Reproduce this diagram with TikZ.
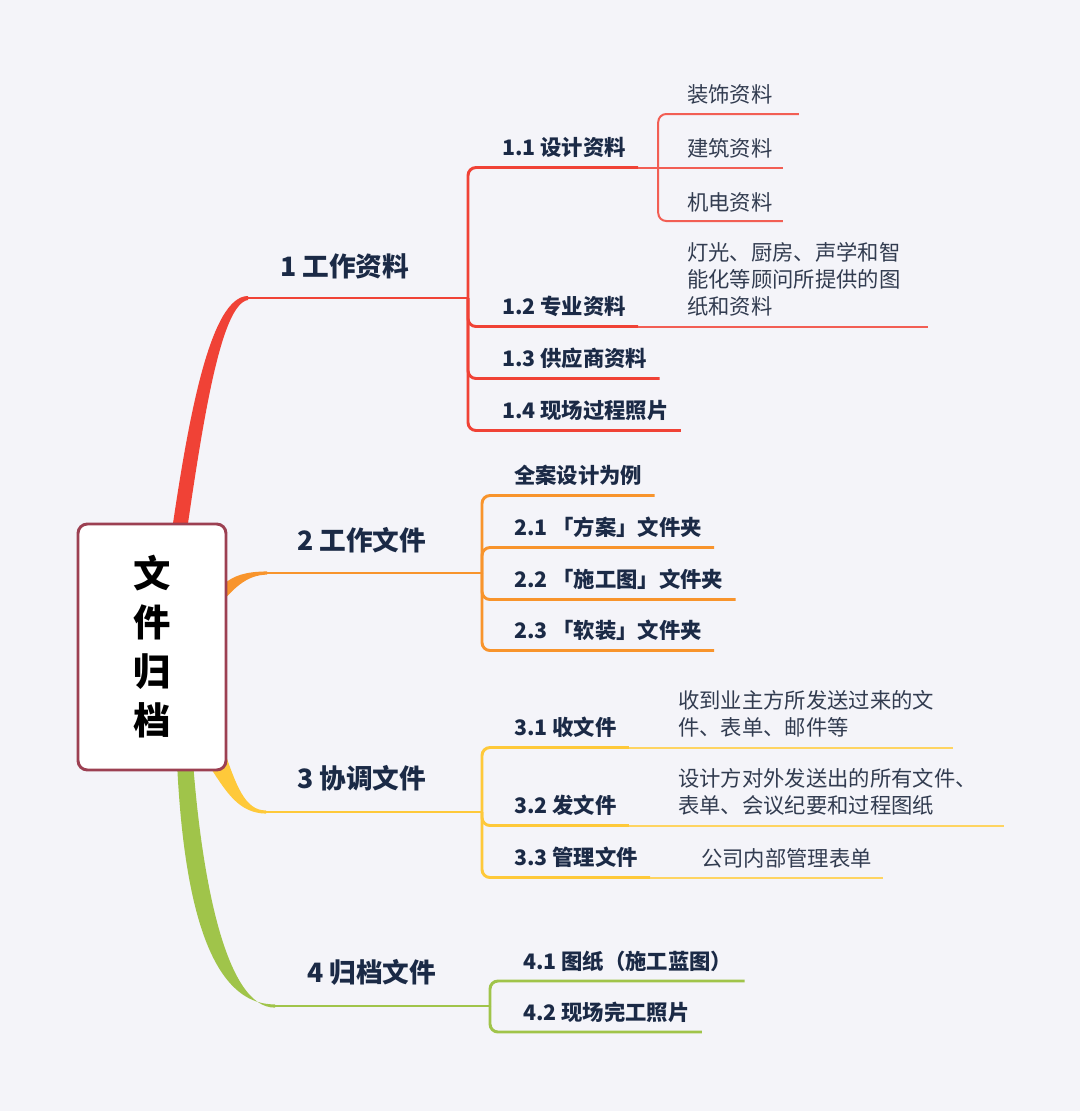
\documentclass[tikz,border=0pt]{standalone}
\usepackage{fontspec}
\setmainfont{Noto Sans CJK SC}
\usepackage{tikz}
\usepackage{xcolor}
\definecolor{pagebg}{RGB}{244,244,249}
\definecolor{rootedge}{RGB}{156,64,82}
\definecolor{inkdark}{RGB}{27,42,70}
\definecolor{inkgrey}{RGB}{50,60,80}
\definecolor{branchred}{RGB}{240,66,54}
\definecolor{branchorange}{RGB}{248,148,44}
\definecolor{branchyellow}{RGB}{254,201,58}
\definecolor{branchgreen}{RGB}{160,196,74}

\begin{document}
\begin{tikzpicture}[x=0.75pt, y=-0.75pt,
    mainlabel/.style={anchor=west, inner sep=0pt, text=inkdark,
      font=\fontsize{20}{24}\selectfont\bfseries},
    sublabel/.style={anchor=west, inner sep=0pt, text=inkdark,
      font=\fontsize{16}{20}\selectfont\bfseries},
    leaflabel/.style={anchor=west, inner sep=0pt, text=inkgrey, align=left,
      font=\fontsize{16}{20.25}\selectfont},
    stem/.style={line width=2.2pt, rounded corners=6pt},
    twig/.style={line width=1.5pt, rounded corners=6pt}]
        % Canvas
        \fill[pagebg] (0,0) rectangle (1080,1111);
        \useasboundingbox (0,0) rectangle (1080,1111);
        \coordinate (rc) at (152,647);
        \coordinate (b1) at (248,298);
        \coordinate (b2) at (267,573);
        \coordinate (b3) at (266,812);
        \coordinate (b4) at (275,1006);

        % Tapered main branches (under the root box)
        \fill[branchred] ([shift={(19,-110)}]rc)
          .. controls (188,420) and (210,296) .. ([yshift=1.5pt]b1)
          -- ([yshift=-1.5pt]b1)
          .. controls (221,304) and (203,420) .. ([shift={(34,-110)}]rc) -- cycle;
        \fill[branchorange] ([shift={(70,-62)}]rc)
          .. controls (235,575) and (245,571.8) .. ([yshift=1.2pt]b2)
          -- ([yshift=-1.2pt]b2)
          .. controls (248,575) and (236,586) .. ([shift={(70,-45)}]rc) -- cycle;
        \fill[branchyellow] ([shift={(72,103)}]rc)
          .. controls (236,785) and (245,810.8) .. ([yshift=1.2pt]b3)
          -- ([yshift=-1.2pt]b3)
          .. controls (240,813) and (228,795) .. ([shift={(58,120)}]rc) -- cycle;
        \fill[branchgreen] ([shift={(25,115)}]rc)
          .. controls (183,890) and (206,1004.8) .. ([yshift=1.2pt]b4)
          -- ([yshift=-1.2pt]b4)
          .. controls (226,1008) and (202,880) .. ([shift={(41,115)}]rc) -- cycle;

        % Root
        \node[draw=rootedge, line width=2.2pt, fill=white, rounded corners=7pt,
          minimum width=111pt, minimum height=184.5pt, align=center,
          font=\fontsize{28}{36.75}\selectfont\bfseries] (root) at (rc)
          {文\\件\\归\\档};

        % 1 Work materials
        \node[mainlabel] (m1) at (280,266) {1 工作资料};
        \node[sublabel] (s11) at (502,147) {1.1 设计资料};
        \node[sublabel] (s12) at (502,306) {1.2 专业资料};
        \node[sublabel] (s13) at (502,358) {1.3 供应商资料};
        \node[sublabel] (s14) at (502,410) {1.4 现场过程照片};
        \node[leaflabel] (l111) at (687,94) {装饰资料};
        \node[leaflabel] (l112) at (687,148) {建筑资料};
        \node[leaflabel] (l113) at (687,202) {机电资料};
        \node[leaflabel] (l121) at (687,279)
          {灯光、厨房、声学和智\\能化等顾问所提供的图\\纸和资料};
        \coordinate (j1) at (468,298);
        \draw[stem, branchred] (b1) -- (j1);
        \foreach \n in {s11,s12,s13,s14}{
          \draw[stem, branchred] (j1) |- ([shift={(12,20.5)}]\n.east) coordinate (e\n);
        }
        \coordinate (j11) at ([shift={(20,0)}]es11);
        \coordinate (x112) at ([shift={(10,0)}]l112.east);
        \coordinate (x121) at ([shift={(27,0)}]l121.east);
        \draw[twig, branchred!85!white] (es11) -- (es11 -| x112);
        \draw[twig, branchred!85!white] (j11) |- ([shift={(26,20)}]l111.east);
        \draw[twig, branchred!85!white] (j11) |- ([shift={(10,19)}]l113.east);
        \draw[twig, branchred!85!white] (es12) -- (es12 -| x121);

        % 2 Work files
        \node[mainlabel] (m2) at (297,540) {2 工作文件};
        \node[sublabel] (s20) at (514,475) {全案设计为例};
        \node[sublabel] (s21) at (514,527) {2.1 「方案」文件夹};
        \node[sublabel] (s22) at (514,579) {2.2 「施工图」文件夹};
        \node[sublabel] (s23) at (514,630) {2.3 「软装」文件夹};
        \coordinate (j2) at (482,573);
        \draw[stem, branchorange] (b2) -- (j2);
        \foreach \n in {s20,s21,s22,s23}{
          \draw[stem, branchorange] (j2) |- ([shift={(12,20.5)}]\n.east);
        }

        % 3 Coordination files
        \node[mainlabel] (m3) at (297,778) {3 协调文件};
        \node[sublabel] (s31) at (514,727) {3.1 收文件};
        \node[sublabel] (s32) at (514,805) {3.2 发文件};
        \node[sublabel] (s33) at (514,857) {3.3 管理文件};
        \node[leaflabel] (l311) at (678,714)
          {收到业主方所发送过来的文\\件、表单、邮件等};
        \node[leaflabel] (l321) at (678,792)
          {设计方对外发送出的所有文件、\\表单、会议纪要和过程图纸};
        \node[leaflabel] (l331) at (701,858) {公司内部管理表单};
        \coordinate (j3) at (482,812);
        \draw[stem, branchyellow] (b3) -- (j3);
        \foreach \n in {s31,s32,s33}{
          \draw[stem, branchyellow] (j3) |- ([shift={(12,20.5)}]\n.east) coordinate (e\n);
        }
        \coordinate (x311) at ([shift={(18,0)}]l311.east);
        \coordinate (x321) at ([shift={(27,0)}]l321.east);
        \coordinate (x331) at ([shift={(11,0)}]l331.east);
        \draw[twig, branchyellow!80!white] (es31) -- (es31 -| x311);
        \draw[twig, branchyellow!80!white] (es32) -- (es32 -| x321);
        \draw[twig, branchyellow!80!white] (es33) -- (es33 -| x331);

        % 4 Archive files
        \node[mainlabel] (m4) at (307,972) {4 归档文件};
        \node[sublabel] (s41) at (523,961) {4.1 图纸（施工蓝图）};
        \node[sublabel] (s42) at (523,1012) {4.2 现场完工照片};
        \coordinate (j4) at (490,1006);
        \draw[stem, branchgreen] (b4) -- (j4);
        \foreach \n in {s41,s42}{
          \draw[stem, branchgreen] (j4) |- ([shift={(12,20)}]\n.east);
        }
      \end{tikzpicture}
\end{document}
